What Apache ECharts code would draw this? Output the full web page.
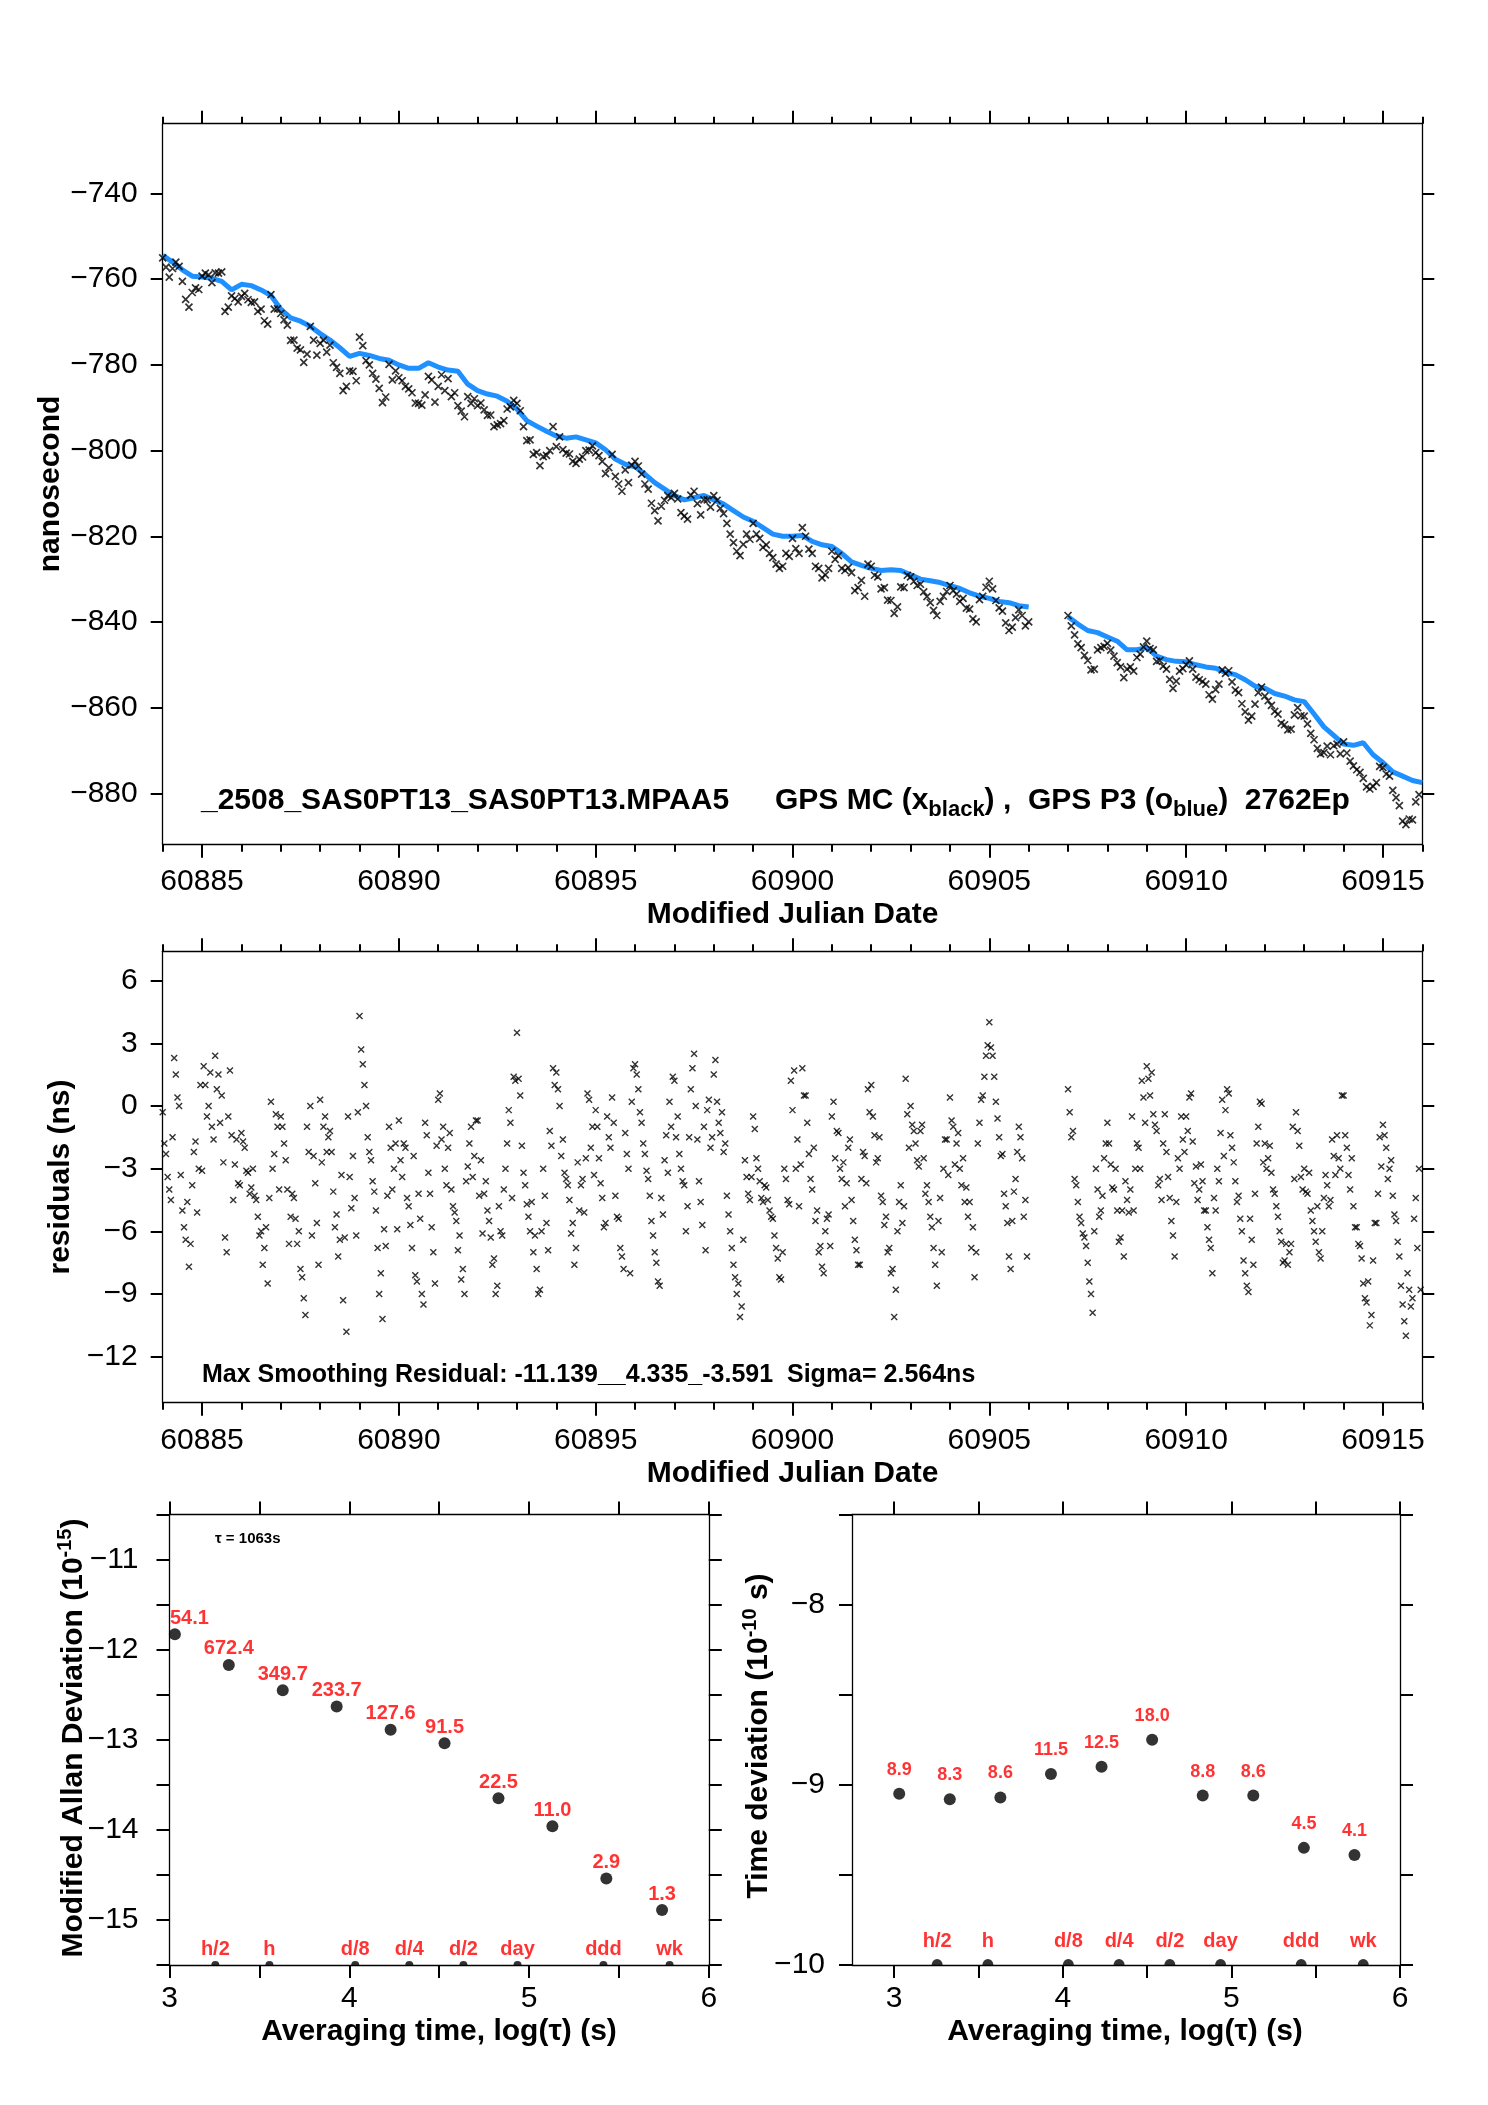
<!DOCTYPE html>
<html><head><meta charset="utf-8">
<script src="https://cdn.jsdelivr.net/npm/echarts@6/dist/echarts.min.js"></script>
<style>html,body{margin:0;padding:0;background:#fff}#c{width:1488px;height:2105px}</style>
</head><body><div id="c"></div>
<script>
// ---------------- DATA ----------------
const MJD_START = 60884;
const BLUE_STEP = 0.25;     // days between blue samples
const blueP3 = [
 -754.4,-756.0,-757.8,-759.3, -759.5,-759.8,-760.5,-762.5, -761.2,-761.5,-762.5,-763.8,
 -767.0,-769.0,-769.8,-771.0, -772.7,-774.2,-776.0,-778.0, -777.3,-777.8,-778.5,-778.9,
 -780.0,-780.8,-780.8,-779.5, -780.5,-781.2,-781.5,-784.5, -786.0,-786.8,-787.3,-788.5,
 -790.3,-793.0,-794.3,-795.5, -796.6,-797.1,-796.8,-797.5, -798.2,-799.8,-802.0,-803.2,
 -803.8,-805.5,-807.5,-809.0, -810.5,-811.5,-811.0,-810.5, -811.5,-812.5,-814.0,-815.5,
 -816.5,-818.0,-819.5,-820.0, -820.0,-819.8,-821.2,-822.0, -822.4,-824.0,-826.0,-826.8,
 -827.5,-828.0,-827.8,-828.0, -829.0,-830.0,-830.4,-830.8, -831.5,-832.2,-833.2,-834.0,
 -834.5,-835.2,-835.5,-836.2, -836.5,null,null,null, -838.8,-840.5,-842.0,-842.5,
 -843.5,-844.5,-846.5,-846.5, -846.0,-848.0,-848.8,-849.2, -849.3,-850.0,-850.5,-850.8,
 -851.8,-852.3,-853.5,-855.0, -855.5,-856.7,-857.3,-858.2, -858.6,-861.5,-864.5,-866.5,
 -868.5,-868.8,-868.2,-871.0, -872.8,-875.0,-876.0,-877.0, -877.5
];
// GPS MC (black), two interleaved sample sets: blackMC at k/6 day, blackMC2 at 1/12 + k/6 day
const BLACK_STEP = 1 / 6;
const blackMC = [
 -755.0,-759.5,-756.0,-760.5,-766.5,-762.0,  -759.3,-759.0,-758.5,-758.3,-766.5,-764.5,
 -764.0,-764.8,-765.3,-767.0,-770.5,-767.0,  -768.0,-770.7,-774.2,-776.5,-777.5,-774.2,
 -775.0,-777.0,-779.5,-782.0,-785.0,-781.5,  -773.5,-779.0,-782.0,-785.5,-787.5,-783.5,
 -783.0,-785.0,-786.5,-789.0,-787.0,-783.5,  -785.0,-786.0,-787.4,-789.5,-792.1,-789.0,
 -789.5,-790.5,-791.7,-794.0,-793.0,-789.8,  -789.0,-794.4,-797.5,-800.5,-801.4,-800.0,
 -799.1,-799.8,-800.8,-803.0,-801.5,-799.9,  -800.5,-802.5,-804.0,-806.0,-809.5,-807.5,
 -802.5,-805.5,-809.0,-814.0,-813.0,-810.5,  -810.0,-814.5,-816.0,-809.5,-815.0,-811.5,
 -810.5,-813.5,-817.0,-821.5,-824.5,-819.5,  -817.0,-820.5,-822.0,-825.0,-827.5,-824.0,
 -820.5,-824.0,-820.0,-824.0,-827.5,-829.0,  -823.5,-824.5,-828.0,-828.5,-832.0,-834.0,
 -827.0,-829.5,-832.0,-835.0,-836.5,-832.0,  -829.5,-831.5,-833.0,-835.5,-838.5,-834.0,
 -831.5,-833.5,-834.5,-837.0,-840.0,-834.0,  -830.5,-835.0,-837.5,-842.0,-839.0,-838.5,
 -840.0,null,null,null,null,null,            -838.5,-843.0,-846.0,-849.0,-851.0,-846.0,
 -845.0,-848.0,-850.5,-851.0,-851.5,-847.5,  -844.5,-846.5,-849.0,-851.0,-855.5,-851.5,
 -850.0,-851.0,-853.5,-854.5,-858.0,-854.5,  -852.0,-854.0,-856.5,-861.0,-862.0,-856.5,
 -857.3,-859.5,-861.5,-864.0,-865.0,-860.0,  -862.0,-866.0,-869.5,-870.5,-871.0,-868.5,
 -868.0,-872.5,-874.5,-876.5,-879.0,-877.5,  -874.0,-876.0,-881.0,-886.5,-886.0,-882.0
];
const blackMC2 = [
 -757.2,-757.5,-757.0,-764.7,-763.1,-762.4,  -758.6,-760.8,-758.6,-767.5,-763.9,-765.3,
 -763.3,-765.4,-767.5,-769.7,-763.6,-766.9,  -769.5,-774.3,-776.1,-779.4,-771.0,-777.7,
 -774.2,-775.4,-780.6,-786.0,-781.4,-783.7,  -775.5,-780.0,-783.3,-788.8,-779.9,-781.4,
 -783.7,-785.6,-788.9,-789.4,-782.7,-788.7,  -782.3,-783.2,-786.5,-790.8,-787.4,-787.9,
 -788.9,-791.8,-794.4,-793.7,-790.3,-788.3,  -790.7,-797.7,-800.9,-803.5,-801.1,-794.4,
 -796.8,-800.6,-802.5,-802.0,-800.0,-798.9,  -801.2,-805.4,-800.9,-807.8,-804.5,-803.4,
 -803.6,-807.8,-812.3,-816.4,-811.6,-811.0,  -811.3,-815.3,-810.4,-812.4,-811.5,-813.2,
 -811.6,-814.7,-819.5,-823.5,-821.9,-820.7,  -819.5,-822.6,-824.0,-826.5,-827.0,-824.7,
 -822.9,-818.0,-823.0,-827.0,-829.7,-827.5,  -825.4,-827.5,-827.3,-832.7,-830.3,-826.5,
 -829.1,-832.3,-834.9,-838.0,-831.8,-829.1,  -830.5,-831.2,-834.1,-837.3,-835.2,-832.9,
 -832.7,-835.2,-836.8,-839.3,-834.8,-831.9,  -832.3,-836.7,-840.2,-841.2,-837.2,-840.9,
 null,null,null,null,null,null,              -840.9,-845.1,-847.8,-851.2,-846.5,-845.7,
 -846.6,-849.5,-853.0,-850.5,-848.3,-845.8,  -846.2,-849.2,-850.3,-853.4,-853.8,-850.9,
 -849.1,-852.9,-853.9,-857.0,-855.8,-851.2,  -851.4,-855.9,-859.1,-862.9,-859.2,-855.2,
 -858.4,-860.9,-863.6,-865.2,-861.7,-861.9,  -863.8,-867.5,-870.8,-869.0,-868.9,-870.8,
 -870.6,-873.6,-875.1,-878.5,-878.4,-873.7,  -875.5,-879.3,-882.9,-887.3,-886.2,-880.3
];
// residuals, two interleaved sample sets: residuals at k/12 day, residuals2 at 1/24 + k/12 day
const RES_STEP = 1 / 12;
const residuals = [
 -0.3,-2.3,-4.0,-1.5,1.5,0.0,-5.0,-6.4,-7.7,-3.8,-1.7,-3.0,
 -3.1,1.0,0.0,-1.0,2.4,1.5,0.5,-6.3,-0.5,-1.4,-2.8,-3.7,
 -1.3,-2.0,-3.2,-3.9,-4.3,-5.3,-6.0,-6.8,-8.5,0.2,-2.3,-1.0,
 -0.5,-1.8,-4.0,-5.3,-4.4,-6.6,-7.8,-9.2,-1.0,0.0,-2.4,-5.6,
 0.3,-1.0,-2.2,-1.2,-4.1,-5.2,-6.4,-9.3,-10.8,-3.4,-2.4,-6.2,
 4.3,2.0,0.0,-2.2,-3.6,-5.0,-9.0,-10.2,-6.7,-1.0,-4.0,-1.8,
 -0.7,-3.4,-2.0,-4.8,-6.8,-8.1,-4.2,-9.0,-0.8,-3.2,-5.8,-8.5,
 0.3,-1.6,-3.0,-2.0,-4.0,-5.1,-6.9,-8.3,-9.0,-2.9,-1.0,-2.4,
 -0.7,-2.6,-4.2,-5.0,-6.3,-7.3,-8.6,-6.0,-4.0,-1.8,-0.8,1.4,
 3.5,0.5,-3.2,-4.7,-6.0,-7.0,-7.8,-8.8,-3.0,-5.6,-1.2,1.8,
 1.6,0.0,-1.6,-3.5,-4.5,-5.6,-6.8,-5.0,-3.5,-2.5,0.3,-1.0,
 -0.2,-2.5,-4.4,-5.6,-1.5,0.4,-4.3,-5.4,-7.2,-1.3,-3.0,0.2,
 2.0,0.8,-0.8,-2.3,-3.5,-5.5,-7.0,-8.4,-4.4,-2.6,-3.2,-1.0,
 1.2,-0.5,-3.0,-3.8,-4.8,0.8,2.5,-1.6,-4.6,-1.0,-0.2,-2.0,
 1.5,0.2,-1.3,-2.2,-4.3,-6.0,-7.6,-9.0,-10.1,-6.4,-3.4,-4.5,
 -0.5,-2.5,-3.6,-4.6,-3.9,-5.0,-5.4,-6.8,-8.2,-7.0,-3.5,-4.7,
 -0.2,-3.0,-4.8,1.8,0.5,-2.3,-4.0,-5.5,-7.0,-7.7,-6.0,-5.2,
 -0.5,-2.5,-1.3,-3.5,-4.8,-2.0,-4.5,-6.4,-7.6,-3.5,-2.4,0.8,
 1.0,-1.4,-2.5,-4.3,-5.7,-7.0,-8.0,-10.1,-6.0,-3.8,-4.8,-0.4,
 0.0,-1.2,-2.6,-1.2,-2.5,-3.8,-5.3,-6.8,-8.6,-4.4,-3.0,-1.6,
 0.4,-1.0,-1.8,-3.0,-2.5,-3.9,-4.6,-5.8,-7.0,-0.8,0.5,2.4,
 4.0,2.4,0.2,-1.5,-2.3,-4.8,-7.2,-5.5,-3.5,-1.0,-2.5,-4.5,
 null,null,null,null,null,null,null,null,null,null,null,null,
 0.8,-1.5,-3.5,-4.6,-5.6,-6.3,-7.5,-9.0,-6.0,-4.0,-5.0,-2.5,
 -0.8,-2.8,-4.0,-5.0,-6.3,-7.2,-4.5,-4.0,-5.0,-1.8,-3.0,0.4,
 1.9,0.5,-0.4,-1.2,-3.5,-1.8,-2.2,-4.4,-6.2,-4.6,-3.0,-1.6,
 -0.5,0.4,-1.7,-2.9,-4.0,-3.6,-5.0,-6.4,-8.0,-5.0,-3.6,0.3,
 -0.2,0.6,-2.0,-3.6,-4.3,-6.0,-8.0,-8.9,-6.4,-4.2,-1.0,0.1,
 -1.8,-2.5,-3.2,-4.2,-5.3,-6.5,-7.4,-7.6,-6.6,-3.5,-1.2,-3.4,
 -3.0,-4.2,-5.0,-6.0,-4.8,-7.3,-4.4,-3.8,-4.5,-2.4,-1.4,-3.0,
 0.5,-2.0,-4.0,-4.8,-5.8,-6.7,-8.5,-9.4,-10.5,-7.4,-5.6,-1.5,
 -0.9,-2.0,-3.0,-4.3,-5.5,-7.2,-9.5,-11.0,-8.8,-9.2,-4.4,-3.0
];
const residuals2 = [
 -1.8,-3.4,-4.5,2.3,0.4,-3.3,-5.8,-4.6,-6.6,-2.2,-5.1,1.0,
 1.9,-0.5,1.6,-1.6,0.8,-0.8,-2.7,-7.0,1.7,-4.5,-1.6,-3.8,
 -1.7,-3.1,-4.2,-3.0,-4.5,-6.2,-7.6,-5.8,-4.4,-3.0,-0.4,-4.0,
 -1.0,-2.6,-6.6,-4.2,-5.4,-6.0,-8.2,-10.0,-2.2,-6.2,-3.7,-7.6,
 -2.7,-0.5,-1.5,-2.2,-5.8,-7.2,-3.3,-6.3,-0.5,-4.9,-4.4,-0.3,
 2.7,1.0,-1.5,-2.6,-4.1,-6.8,-8.0,-5.9,-4.3,-2.0,-3.0,-5.9,
 -2.6,-1.8,-4.4,-5.7,-2.4,-8.4,-5.4,-9.5,-1.4,-4.2,-7.0,-1.9,
 0.6,-1.0,-3.8,-1.3,-4.8,-5.5,-6.2,-7.8,-3.6,-1.8,-3.4,-0.7,
 -4.3,-6.1,-3.6,-5.5,-7.6,-9.0,-4.8,-6.2,-3.0,-0.2,-4.4,1.2,
 1.3,-1.9,-3.8,-5.3,-4.6,-6.2,-9.0,-6.0,-4.3,-6.9,-1.9,1.0,
 0.8,-2.4,-3.2,-3.8,-6.1,-7.6,-2.7,-3.8,-5.1,0.6,-2.0,-3.3,
 -1.0,-3.7,-5.8,-0.5,-2.0,-0.8,-5.3,-6.8,-7.8,-2.3,-8.0,1.8,
 1.5,-0.3,-1.8,-3.1,-4.3,-6.2,-7.5,-8.6,-5.2,-1.4,0.2,1.4,
 -1.5,-2.3,-3.6,-6.0,-1.5,1.8,0.0,-3.6,-5.7,-6.9,0.3,-1.5,
 2.2,-0.8,-0.3,-1.8,-5.2,-6.8,-8.2,-8.5,-9.6,-2.6,-4.2,-3.4,
 -1.1,-3.0,-4.4,-3.8,-4.5,-5.3,-6.2,-7.3,-8.3,-3.0,-4.5,1.2,
 1.7,-1.6,-2.8,0.5,-0.8,-3.5,-2.0,-5.0,-6.7,-8.0,-5.4,-6.7,
 0.2,-1.2,-3.0,-2.7,-3.7,-1.6,-5.5,-6.9,-7.6,-2.2,-3.7,-0.3,
 -0.5,-2.7,-1.5,-4.6,-5.3,-6.8,-7.8,-8.8,-4.6,-5.6,1.3,-2.0,
 -0.9,-1.8,-2.9,-0.9,-4.2,-4.6,-5.8,-7.6,-5.5,-7.0,-1.6,-3.3,
 -0.7,-2.8,-1.3,-3.8,-4.6,-5.3,-6.8,-8.2,-1.8,0.3,1.4,2.9,
 2.8,1.4,-0.6,-2.4,-4.2,-5.6,-7.8,-4.1,-2.2,-1.5,-5.3,-7.2,
 null,null,null,null,null,null,null,null,null,null,null,null,
 -0.3,-1.2,-3.8,-5.3,-6.1,-6.7,-8.4,-9.9,-3.0,-5.3,-4.3,-1.8,
 -1.8,-3.9,-3.0,-6.5,-5.0,-3.6,-5.1,-0.5,-3.0,-2.0,1.2,-0.8,
 1.3,1.6,-0.9,-3.8,-4.5,-0.4,-3.4,-5.5,-7.2,-2.5,-0.5,-2.2,
 -1.2,0.6,-3.7,-4.5,-2.8,-5.0,-5.8,-6.8,-4.4,-3.0,-1.3,-2.4,
 0.8,-1.4,-2.7,-4.6,-5.4,-7.4,-8.6,-5.4,-7.6,-1.8,0.2,-2.7,
 -3.0,-1.9,-4.0,-4.8,-6.0,-7.5,-6.6,-7.0,-1.0,-0.3,-1.9,-4.0,
 -4.1,-3.2,-5.5,-6.5,-7.0,-6.0,-3.3,-4.8,-1.6,-3.3,-2.5,0.5,
 -1.4,-3.3,-2.5,-5.8,-6.6,-7.3,-9.2,-8.4,-10.0,-5.6,-4.2,-2.9,
 -1.4,-3.5,-2.6,-5.2,-6.5,-8.6,-10.3,-8.0,-9.6,-5.4,-6.8,-8.8
];
const adevTau    = [3.03, 3.33, 3.63, 3.93, 4.23, 4.53, 4.83, 5.13, 5.43, 5.74];
const adevVal    = [-11.83,-12.17,-12.45,-12.63,-12.89,-13.04,-13.65,-13.96,-14.54,-14.89];
const adevLabels = ['54.1','672.4','349.7','233.7','127.6','91.5','22.5','11.0','2.9','1.3'];
const tdevTau    = [3.03, 3.33, 3.63, 3.93, 4.23, 4.53, 4.83, 5.13, 5.43, 5.73];
const tdevVal    = [-9.05,-9.08,-9.07,-8.94,-8.90,-8.75,-9.06,-9.06,-9.35,-9.39];
const tdevLabels = ['8.9','8.3','8.6','11.5','12.5','18.0','8.8','8.6','4.5','4.1'];
const markTau    = [3.255, 3.556, 4.033, 4.334, 4.635, 4.936, 5.414, 5.782];
const markLabels = ['h/2','h','d/8','d/4','d/2','day','ddd','wk'];
const mjdLabels  = [60885, 60890, 60895, 60900, 60905, 60910, 60915];
const topYTicks  = [-880,-860,-840,-820,-800,-780,-760,-740];
const midYTicks  = [-12,-9,-6,-3,0,3,6];
const halfTicks  = [3,3.5,4,4.5,5,5.5,6];
const intLabels  = [3,4,5,6];
const adevYTicks = [-15.5,-15,-14.5,-14,-13.5,-13,-12.5,-12,-11.5,-11,-10.5];
const adevYLabels= [-15,-14,-13,-12,-11];
const tdevYTicks = [-10,-9.5,-9,-8.5,-8,-7.5];
const tdevYLabels= [-10,-9,-8];

// ---------------- RENDER ----------------
const FONT = '"Liberation Sans", Arial, Helvetica, sans-serif';
const days = []; for (let d = 60884; d <= 60916; d++) days.push(d);
const fmt = v => (v < 0 ? '\u2212' + String(Math.abs(v)) : String(v));
const XSYM = 'path://M0,0L10,10M0,10L10,0';
const SEMI = 'path://M0,10A10,10,0,0,1,20,10Z';

const toSeries = (arr, step, offset, keepNull) => {
  const out = [];
  arr.forEach((v, i) => {
    const t = MJD_START + offset + i * step;
    if (v === null) { if (keepNull) out.push([t, '-']); }
    else out.push([t, v]);
  });
  return out;
};

function ax(g, pos, min, max, ticks, len, labels, margin, line) {
  return {
    type: 'value', gridIndex: g, position: pos, min: min, max: max,
    axisLine: { show: line !== false, onZero: false, lineStyle: { color: '#000', width: 1.3 } },
    axisTick: { show: true, inside: false, length: len, customValues: ticks, lineStyle: { color: '#000', width: 2 } },
    axisLabel: labels ? { show: true, customValues: labels, margin: margin, color: '#000', fontSize: 30,
      fontFamily: FONT, formatter: fmt } : { show: false },
    splitLine: { show: false }, splitArea: { show: false }, minorTick: { show: false }
  };
}

const mctx = document.createElement('canvas').getContext('2d');
function tw(t, size, bold) { mctx.font = (bold ? 'bold ' : '') + size + 'px ' + FONT; return mctx.measureText(t).width; }
function seqText(pieces, x, y, align, vertical) {
  const ws = pieces.map(p => tw(p.t, p.s, p.b !== false));
  const W = ws.reduce((a, b) => a + b, 0);
  let acc = align === 'center' ? -W / 2 : 0;
  return pieces.map((p, i) => {
    const up = p.up || 0;
    const el = {
      type: 'text', z: 100, silent: true,
      x: vertical ? x - up : x + acc,
      y: vertical ? y - acc : y - up,
      rotation: vertical ? Math.PI / 2 : 0,
      style: { text: p.t, fontSize: p.s, fontWeight: p.b === false ? 'normal' : 'bold', fontFamily: FONT,
        fill: p.c || '#000', align: 'left', verticalAlign: 'middle', textAlign: 'left', textVerticalAlign: 'middle' }
    };
    acc += ws[i];
    return el;
  });
}

const graphics = [].concat(
  seqText([{ t: 'nanosecond', s: 30 }], 51, 484, 'center', true),
  seqText([{ t: 'Modified Julian Date', s: 30 }], 792.5, 915, 'center', false),
  seqText([{ t: 'residuals (ns)', s: 30 }], 60.5, 1177, 'center', true),
  seqText([{ t: 'Modified Julian Date', s: 30 }], 792.5, 1474, 'center', false),
  seqText([{ t: 'Modified Allan Deviation (10', s: 30 }, { t: '-15', s: 20, up: 9 }, { t: ')', s: 30 }], 74, 1738, 'center', true),
  seqText([{ t: 'Time deviation (10', s: 30 }, { t: '-10', s: 20, up: 9 }, { t: ' s)', s: 30 }], 759, 1736, 'center', true),
  seqText([{ t: 'Averaging time, log(\u03C4) (s)', s: 30 }], 439, 2032, 'center', false),
  seqText([{ t: 'Averaging time, log(\u03C4) (s)', s: 30 }], 1125, 2032, 'center', false),
  seqText([{ t: '_2508_SAS0PT13_SAS0PT13.MPAA5', s: 30 }], 201, 801, 'left', false),
  seqText([{ t: 'GPS MC (x', s: 30 }, { t: 'black', s: 22, up: -9 }, { t: ') ,  GPS P3 (o', s: 30 },
           { t: 'blue', s: 22, up: -9 }, { t: ')  2762Ep', s: 30 }], 775, 801, 'left', false),
  seqText([{ t: 'Max Smoothing Residual: -11.139__4.335_-3.591  Sigma= 2.564ns', s: 25 }], 202, 1375, 'left', false),
  seqText([{ t: '\u03C4 = 1063s', s: 15 }], 215, 1539, 'left', false)
);

const redLabel = (size, dist, arr) => ({
  show: true, position: 'top', distance: dist, color: '#ff0000', fontSize: size, fontWeight: 'bold',
  fontFamily: FONT, formatter: p => arr[p.dataIndex]
});

const adevData = adevTau.map((x, i) => i === 0
  ? { value: [x, adevVal[i]], label: { align: 'left', offset: [-5, 0] } }
  : [x, adevVal[i]]);
const tdevData = tdevTau.map((x, i) => [x, tdevVal[i]]);
const markL = markTau.map(x => [x, -15.5]);
const markR = markTau.map(x => [x, -10]);

const blackData = toSeries(blackMC, BLACK_STEP, 0, false).concat(toSeries(blackMC2, BLACK_STEP, 1 / 12, false));
const resData = toSeries(residuals, RES_STEP, 0, false).concat(toSeries(residuals2, RES_STEP, 1 / 24, false));

const xStyleTop = { color: 'rgba(0,0,0,0)', borderColor: '#000', borderWidth: 1.7 };
const xStyleMid = { color: 'rgba(0,0,0,0)', borderColor: '#000', borderWidth: 1.4 };

const option = {
  animation: false,
  backgroundColor: '#fff',
  grid: [
    { left: 162.7, top: 123.7, width: 1259.6, height: 721, outerBoundsMode: 'none' },
    { left: 162.7, top: 951.3, width: 1259.6, height: 451.4, outerBoundsMode: 'none' },
    { left: 169.5, top: 1514.5, width: 539.3, height: 450.5, outerBoundsMode: 'none' },
    { left: 852, top: 1514.5, width: 548, height: 450.5, outerBoundsMode: 'none' }
  ],
  xAxis: [
    ax(0, 'bottom', 60884, 60916, days, 7, mjdLabels, 22),
    ax(0, 'bottom', 60884, 60916, mjdLabels, 13, null, 0, false),
    ax(0, 'top', 60884, 60916, days, 7, null, 0),
    ax(0, 'top', 60884, 60916, mjdLabels, 13, null, 0, false),
    ax(1, 'bottom', 60884, 60916, days, 7, mjdLabels, 23),
    ax(1, 'bottom', 60884, 60916, mjdLabels, 13, null, 0, false),
    ax(1, 'top', 60884, 60916, days, 7, null, 0),
    ax(1, 'top', 60884, 60916, mjdLabels, 13, null, 0, false),
    ax(2, 'bottom', 3, 6, halfTicks, 13, intLabels, 19),
    ax(2, 'top', 3, 6, halfTicks, 13, null, 0),
    ax(3, 'bottom', 2.75, 6, halfTicks, 13, intLabels, 19),
    ax(3, 'top', 2.75, 6, halfTicks, 13, null, 0)
  ],
  yAxis: [
    ax(0, 'left', -892, -723.7, topYTicks, 12, topYTicks, 25),
    ax(0, 'right', -892, -723.7, topYTicks, 12, null, 0),
    ax(1, 'left', -14.2, 7.4, midYTicks, 12, midYTicks, 25),
    ax(1, 'right', -14.2, 7.4, midYTicks, 12, null, 0),
    ax(2, 'left', -15.5, -10.5, adevYTicks, 13, adevYLabels, 31),
    ax(2, 'right', -15.5, -10.5, adevYTicks, 13, null, 0),
    ax(3, 'left', -10, -7.5, tdevYTicks, 13, tdevYLabels, 27),
    ax(3, 'right', -10, -7.5, tdevYTicks, 13, null, 0)
  ],
  series: [
    { name: 'GPS P3', type: 'line', xAxisIndex: 0, yAxisIndex: 0, data: toSeries(blueP3, BLUE_STEP, 0, true),
      symbol: 'none', connectNulls: false, lineStyle: { color: '#1E90FF', width: 5 }, z: 2, silent: true },
    { name: 'GPS MC', type: 'scatter', xAxisIndex: 0, yAxisIndex: 0, data: blackData,
      symbol: XSYM, symbolSize: 7, itemStyle: xStyleTop, z: 3, silent: true },
    { name: 'residuals', type: 'scatter', xAxisIndex: 4, yAxisIndex: 2, data: resData,
      symbol: XSYM, symbolSize: 6, itemStyle: xStyleMid, z: 3, silent: true },
    { name: 'MDEV', type: 'scatter', xAxisIndex: 8, yAxisIndex: 4, data: adevData, symbol: 'circle', symbolSize: 12,
      itemStyle: { color: '#000' }, label: redLabel(20, 0, adevLabels), clip: false, silent: true },
    { name: 'marksL', type: 'scatter', xAxisIndex: 8, yAxisIndex: 4, data: markL, symbol: SEMI, symbolSize: [8, 4],
      symbolOffset: [0, -2], itemStyle: { color: '#000' }, label: redLabel(20, 2, markLabels), clip: false, silent: true },
    { name: 'TDEV', type: 'scatter', xAxisIndex: 10, yAxisIndex: 6, data: tdevData, symbol: 'circle', symbolSize: 12,
      itemStyle: { color: '#000' }, label: redLabel(18, 9, tdevLabels), clip: false, silent: true },
    { name: 'marksR', type: 'scatter', xAxisIndex: 10, yAxisIndex: 6, data: markR, symbol: SEMI, symbolSize: [11, 6],
      symbolOffset: [0, -3], itemStyle: { color: '#000' }, label: redLabel(20, 8, markLabels), clip: false, silent: true }
  ],
  graphic: graphics
};

const chart = echarts.init(document.getElementById('c'), null, { renderer: 'canvas' });
chart.setOption(option);
</script>
</body></html>
